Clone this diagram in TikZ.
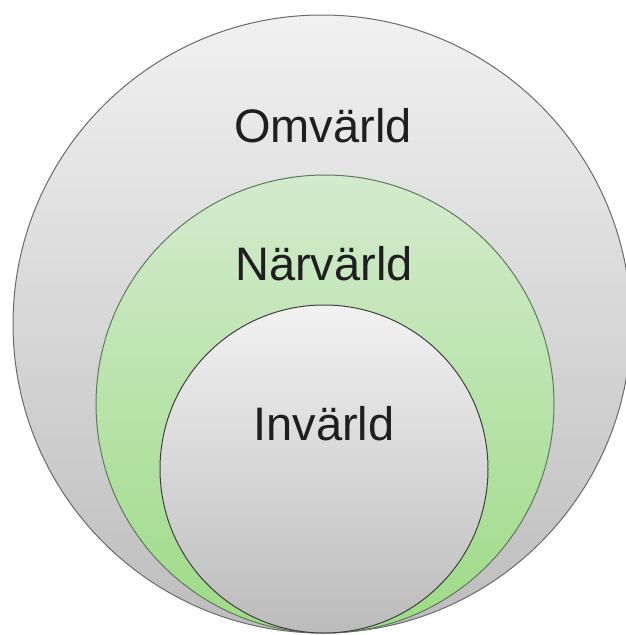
\documentclass[tikz,border=0pt]{standalone}
\usepackage{fontspec}
\setmainfont{Liberation Sans}
\usetikzlibrary{positioning}

\definecolor{omtop}{HTML}{F1F1F1}
\definecolor{ombot}{HTML}{BDBDBD}
\definecolor{nartop}{HTML}{D4EBCE}
\definecolor{narbot}{HTML}{9DDB86}
\definecolor{intop}{HTML}{F2F2F3}
\definecolor{inbot}{HTML}{BBBBBB}
\definecolor{rim}{HTML}{6A6A6A}

\begin{document}
\begin{tikzpicture}[x=1pt,y=-1pt,
  world/.style={circle,draw=rim,line width=1pt,inner sep=0pt},
  lbl/.style={font=\fontsize{47}{47}\selectfont,text=black!88,inner sep=0pt}]
\useasboundingbox (0,0) rectangle (626,635);
\fill[white] (0,0) rectangle (626,635);
% the three worlds, all touching at the bottom
\node[world,minimum size=618pt,top color=omtop,bottom color=ombot] (omv) at (322,324) {};
\node[world,minimum size=458pt,top color=nartop,bottom color=narbot,draw=rim!90!green] (narv) at (325,404) {};
\node[world,minimum size=328pt,top color=intop,bottom color=inbot,draw=black!75] (inv) at (324,469) {};
% labels
\node[lbl] (omvtext) at (323,126) {Omvärld};
\node[lbl] (narvtext) at (324,264) {Närvärld};
\node[lbl] (invtext) at (324,424) {Invärld};
\end{tikzpicture}
\end{document}
